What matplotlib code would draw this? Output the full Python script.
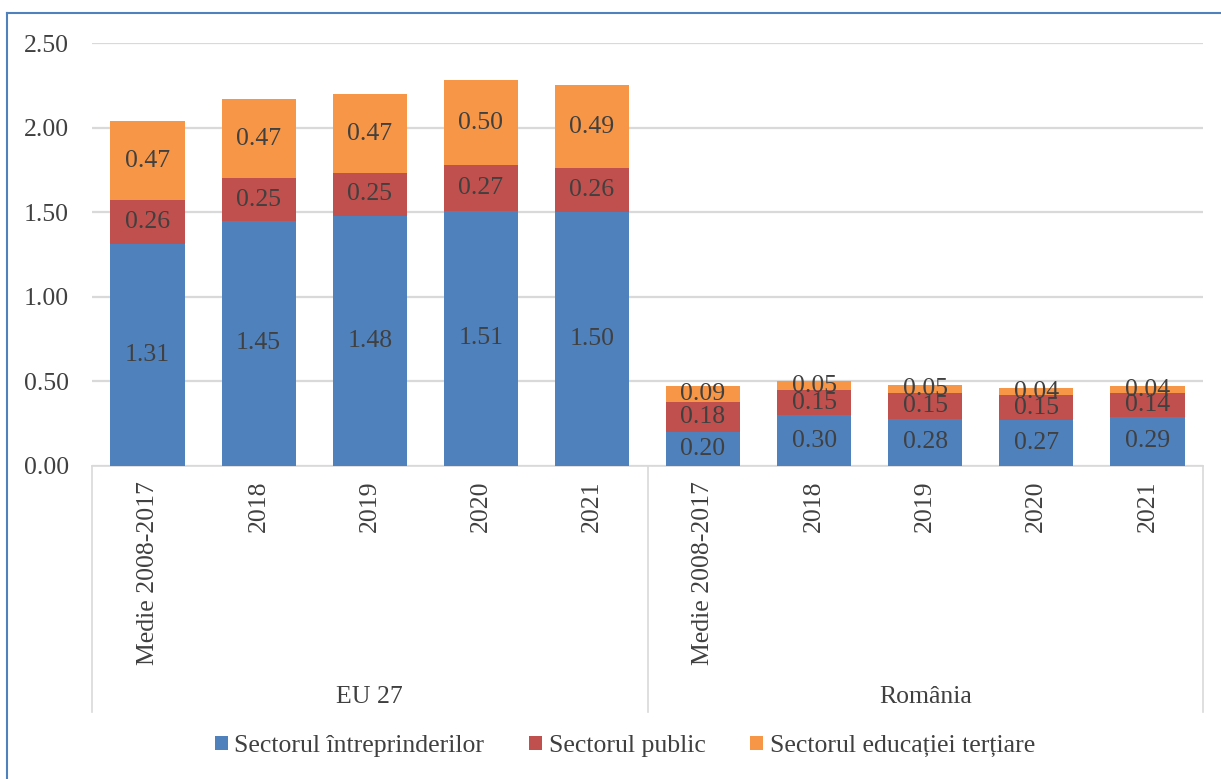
import matplotlib
matplotlib.use("Agg")
import matplotlib.pyplot as plt
from matplotlib.lines import Line2D
import numpy as np

plt.rcParams['font.family'] = ['Liberation Serif', 'DejaVu Serif']

categories = ["Medie 2008-2017", "2018", "2019", "2020", "2021",
              "Medie 2008-2017", "2018", "2019", "2020", "2021"]
groups = ["EU 27", "România"]
series_names = ["Sectorul întreprinderilor", "Sectorul public", "Sectorul educației terțiare"]
business = [1.31, 1.45, 1.48, 1.51, 1.50, 0.20, 0.30, 0.28, 0.27, 0.29]
public = [0.26, 0.25, 0.25, 0.27, 0.26, 0.18, 0.15, 0.15, 0.15, 0.14]
tertiary = [0.47, 0.47, 0.47, 0.50, 0.49, 0.09, 0.05, 0.05, 0.04, 0.04]
yticks = [0.0, 0.5, 1.0, 1.5, 2.0, 2.5]

colors = ["#4F81BD", "#C0504D", "#F79646"]
txt = "#404040"
FS = 18.5
W, H = 1221, 779
fig = plt.figure(figsize=(W/100, H/100), dpi=100)
ax = fig.add_axes([92/W, 1-466/H, (1203-92)/W, (466-43)/H])

x = np.arange(len(categories))
bottoms = np.zeros(len(categories))
for vals, c, name in zip([business, public, tertiary], colors, series_names):
    vals = np.array(vals)
    ax.bar(x, vals, 0.667, bottom=bottoms, color=c, label=name, zorder=3)
    for xi, b, v in zip(x, bottoms, vals):
        ax.text(xi, b + v/2, f"{v:.2f}", ha="center", va="center",
                fontsize=FS, color=txt, zorder=4)
    bottoms += vals

ax.set_xlim(-0.5, len(categories)-0.5)
ax.set_ylim(0, 2.5)
ax.set_yticks(yticks)
ax.set_yticklabels([f"{v:.2f}" for v in yticks], fontsize=FS, color=txt)
ax.tick_params(axis="y", length=0, pad=16.5)
ax.set_xticks([])
ax.grid(axis="y", color="#d9d9d9", linewidth=1.6, zorder=0)
for s in ["top", "right", "left"]:
    ax.spines[s].set_visible(False)
ax.spines["bottom"].set_color("#d9d9d9")
ax.spines["bottom"].set_linewidth(1.2)

trans = ax.get_xaxis_transform()
for xi, lab in zip(x, categories):
    ax.text(xi, -15/423, lab, rotation=90, ha="center", va="top",
            fontsize=FS, color=txt, transform=trans, clip_on=False)
ylow = -(712-466)/423
for xs in [-0.5, 4.5, 9.5]:
    ax.plot([xs, xs], [0, ylow], color="#d9d9d9", linewidth=1.2,
            transform=trans, clip_on=False)
for gi, g in enumerate(groups):
    ax.text(gi*5 + 2, -(697-466)/423, g, ha="center", va="center",
            fontsize=FS, color=txt, transform=trans, clip_on=False)

leg = fig.legend(loc="center", bbox_to_anchor=(625/W, 1-746/H), ncol=3,
                 frameon=False, fontsize=FS, handlelength=0.5, handleheight=0.5,
                 handletextpad=0.25, columnspacing=1.75)
for t in leg.get_texts():
    t.set_color(txt)

border = "#4F81BD"
fig.add_artist(Line2D([7/W, 7/W], [0, 1-13/H], color=border, linewidth=1.5))
fig.add_artist(Line2D([7/W, 1], [1-13/H, 1-13/H], color=border, linewidth=1.5))

fig.savefig("out.png", dpi=100)
